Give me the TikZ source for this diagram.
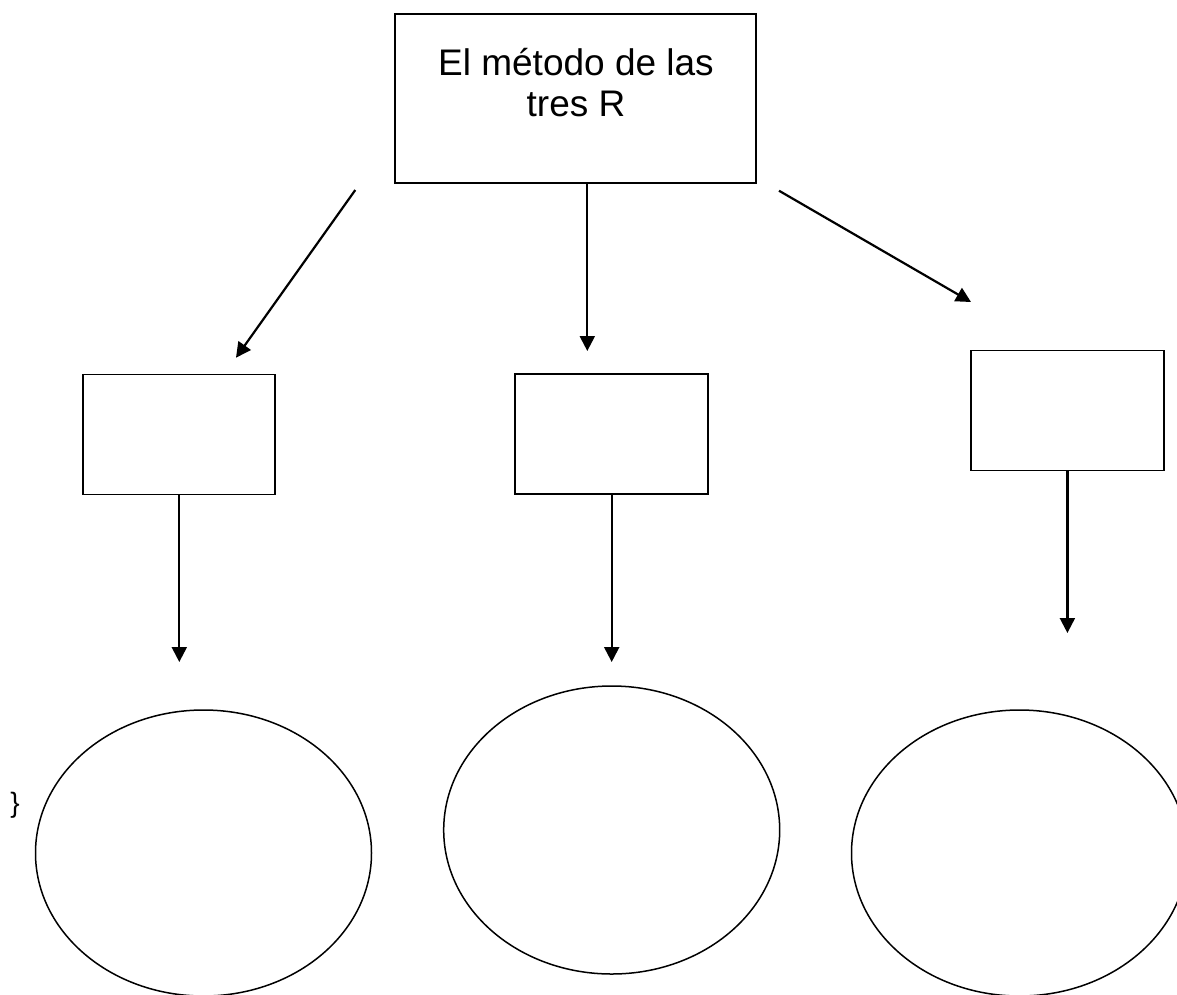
\documentclass[tikz,border=0pt]{standalone}
\usepackage{fontspec}
\setmainfont{Liberation Sans}
\usetikzlibrary{arrows.meta,shapes.geometric}
\begin{document}
\begin{tikzpicture}[x=1pt,y=-1pt,
  box/.style={draw,line width=1.8pt,rectangle,inner sep=0pt},
  oval/.style={draw,line width=1.5pt,ellipse,inner sep=0pt,minimum width=336pt,minimum height=286pt},
  arr/.style={line width=2.2pt,-{Triangle[length=15pt,width=15pt]}}]
\useasboundingbox (0,0) rectangle (1177,994);
\clip (0,0) rectangle (1177,994);
% top box
\node[box,minimum width=361pt,minimum height=168.5pt] (top) at (575.5,98.5) {};
\node[anchor=north,inner sep=0pt,align=center,font=\fontsize{37}{41.4}\selectfont] (toptext) at (576,48) {El método de las\\tres R};
% middle boxes
\node[box,minimum width=192pt,minimum height=120pt] (b1) at (179.3,434.5) {};
\node[box,minimum width=193pt,minimum height=120pt] (b2) at (611.8,434.2) {};
\node[box,minimum width=193pt,minimum height=120pt] (b3) at (1067.4,410.5) {};
% ellipses
\node[oval] (e1) at (203.5,853) {};
\node[oval,minimum height=288pt] (e2) at (611.7,830) {};
\node[oval] (e3) at (1019.5,853) {};
% stray brace
\node[inner sep=0pt,font=\fontsize{28}{32}\selectfont] (brace) at (15,805) {\}};
% connector coordinates
\coordinate (s1) at (355.3,190);
\coordinate (t1) at (236,357.7);
\coordinate (s2) at (587.3,182.5);
\coordinate (t2) at (587.3,351);
\coordinate (s3) at (779,190.7);
\coordinate (t3) at (971,302);
\coordinate (u1) at (179.3,494.5);
\coordinate (v1) at (179.3,662);
\coordinate (u2) at (611.7,494);
\coordinate (v2) at (611.7,662);
\coordinate (u3) at (1067.4,470.5);
\coordinate (v3) at (1067.4,633);
\draw[arr] (s1) -- (t1);
\draw[arr] (s2) -- (t2);
\draw[arr] (s3) -- (t3);
\draw[arr] (u1) -- (v1);
\draw[arr] (u2) -- (v2);
\draw[arr] (u3) -- (v3);
\end{tikzpicture}
\end{document}
